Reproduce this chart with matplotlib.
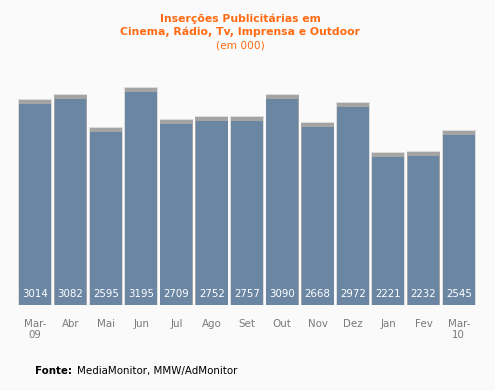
import numpy as np
import matplotlib.pyplot as plt

meses = ["Mar-\n09", "Abr", "Mai", "Jun", "Jul", "Ago", "Set", "Out", "Nov", "Dez", "Jan", "Fev", "Mar-\n10"]
insercoes = [3014, 3082, 2595, 3195, 2709, 2752, 2757, 3090, 2668, 2972, 2221, 2232, 2545]

bg = "#fafafa"
azul = "#6b86a3"
laranja = "#ff6a13"

fig = plt.figure(figsize=(4.95, 3.91), dpi=100, facecolor=bg)
ax = fig.add_axes([17.5/495, 86/391, 459/495, 227/391])
ax.set_facecolor(bg)

x = np.arange(len(insercoes))
v = np.array(insercoes)
# contorno claro e sombra no topo
ax.bar(x, v + 75, width=0.95, color="#dcdcdc", zorder=1)
ax.bar(x, v + 60, width=0.92, color="#a4a4a4", zorder=2)
ax.bar(x, v, width=0.90, color=azul, zorder=3)

for xi, vi in zip(x, v):
    ax.text(xi, 165, str(vi), ha="center", va="center", color="white", fontsize=7.4, zorder=4)

ax.set_xlim(-0.5, 12.5)
ax.set_ylim(0, 3400)
ax.set_yticks([])
ax.set_xticks(x)
ax.set_xticklabels(meses, color="#7a7a7a", fontsize=7.4, linespacing=1.2)
ax.tick_params(axis="x", length=0, pad=10)
for s in ax.spines.values():
    s.set_visible(False)

cx = 240/495
fig.text(cx, 1 - 19/391, "Inserções Publicitárias em",
         ha="center", va="center", color=laranja, fontsize=7.8, fontweight="bold")
fig.text(cx, 1 - 32/391, "Cinema, Rádio, Tv, Imprensa e Outdoor",
         ha="center", va="center", color=laranja, fontsize=7.8, fontweight="bold")
fig.text(cx, 1 - 45/391, "(em 000)", ha="center", va="center", color=laranja, fontsize=7.6)

fig.text(35/495, 1 - 371/391, "Fonte:", ha="left", va="center", color="black", fontsize=7.4, fontweight="bold")
fig.text(77/495, 1 - 371/391, "MediaMonitor, MMW/AdMonitor", ha="left", va="center", color="black", fontsize=7.4)

fig.savefig("out.png", dpi=100, facecolor=bg)
